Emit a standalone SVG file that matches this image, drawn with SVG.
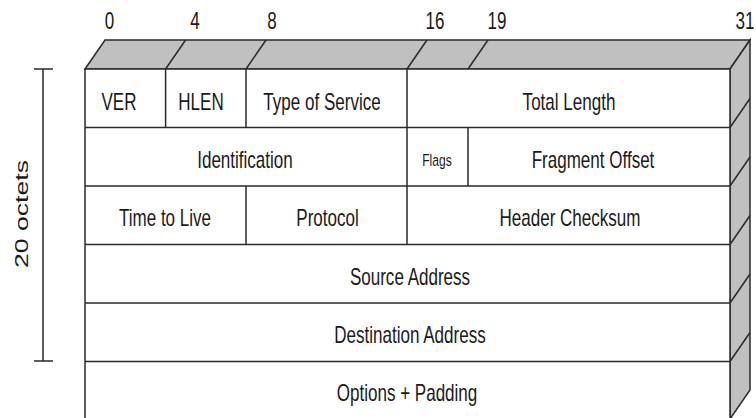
<svg xmlns="http://www.w3.org/2000/svg" width="756" height="418" viewBox="0 0 756 418">
<style>
.ln{stroke:#2a2a2a;stroke-width:1.5;fill:none}
.face{fill:#fff;stroke:#2a2a2a;stroke-width:1.5}
.shade{fill:#c0c0c0;stroke:#2a2a2a;stroke-width:1.5;stroke-linejoin:miter}
.t{font-family:"Liberation Sans",Arial,sans-serif;font-size:24px;fill:#1a1a1a;text-anchor:middle}
.s{font-size:17px}
</style>
<rect width="756" height="418" fill="#fff"/>
<g id="bit-numbers">
<text class="t" transform="translate(109.5,29) scale(0.71,1)">0</text>
<text class="t" transform="translate(195,29) scale(0.71,1)">4</text>
<text class="t" transform="translate(272,29) scale(0.71,1)">8</text>
<text class="t" transform="translate(435,29) scale(0.71,1)">16</text>
<text class="t" transform="translate(497,29) scale(0.71,1)">19</text>
<text class="t" transform="translate(745,29) scale(0.71,1)">31</text>
</g>
<g id="top-face">
<polygon class="shade" points="85,69 105,40 750,40 730,69"/>
<path class="ln" d="M165.6,69 L185.6,40 M246,69 L266,40 M407,69 L427,40 M468,69 L488,40"/>
</g>
<g id="side-face">
<polygon class="shade" points="730,69 750,40 750,390 730,419"/>
<path class="ln" d="M730,127.5 L750,98.5 M730,186 L750,157 M730,244.5 L750,215.5 M730,303 L750,274 M730,361.5 L750,332.5"/>
</g>
<g id="front-face">
<rect class="face" x="85" y="69" width="645" height="351"/>
<path class="ln" d="M85,127.5 H730 M85,186 H730 M85,244.5 H730 M85,303 H730 M85,361.5 H730"/>
</g>
<g id="row1">
<g id="ver"><path class="ln" d="M165.6,69 V127.5"/><text class="t" transform="translate(119,110) scale(0.71,1)">VER</text></g>
<g id="hlen"><path class="ln" d="M246,69 V127.5"/><text class="t" transform="translate(201,110) scale(0.71,1)">HLEN</text></g>
<g id="tos"><path class="ln" d="M407,69 V127.5"/><text class="t" transform="translate(322,110) scale(0.71,1)">Type of Service</text></g>
<g id="total-length"><text class="t" transform="translate(569,110) scale(0.71,1)">Total Length</text></g>
</g>
<g id="row2">
<g id="identification"><path class="ln" d="M407,127.5 V186"/><text class="t" transform="translate(245,168) scale(0.71,1)">Identification</text></g>
<g id="flags"><path class="ln" d="M468,127.5 V186"/><text class="t s" transform="translate(437,165.5) scale(0.71,1)">Flags</text></g>
<g id="fragment-offset"><text class="t" transform="translate(593,168) scale(0.71,1)">Fragment Offset</text></g>
</g>
<g id="row3">
<g id="ttl"><path class="ln" d="M246,186 V244.5"/><text class="t" transform="translate(165,226) scale(0.71,1)">Time to Live</text></g>
<g id="protocol"><path class="ln" d="M407,186 V244.5"/><text class="t" transform="translate(327.5,226) scale(0.71,1)">Protocol</text></g>
<g id="checksum"><text class="t" transform="translate(570,226) scale(0.71,1)">Header Checksum</text></g>
</g>
<g id="source"><text class="t" transform="translate(410,285) scale(0.71,1)">Source Address</text></g>
<g id="destination"><text class="t" transform="translate(410,343) scale(0.71,1)">Destination Address</text></g>
<g id="options"><text class="t" transform="translate(407,401) scale(0.71,1)">Options + Padding</text></g>
<g id="connectors">
<path class="ln" d="M43,69 V361 M34,69 H53 M34,361 H53"/>
</g>
<g id="octets-label">
<text class="t" style="font-size:19px" transform="translate(28,214) rotate(-90)" textLength="108" lengthAdjust="spacingAndGlyphs">20 octets</text>
</g>
</svg>
